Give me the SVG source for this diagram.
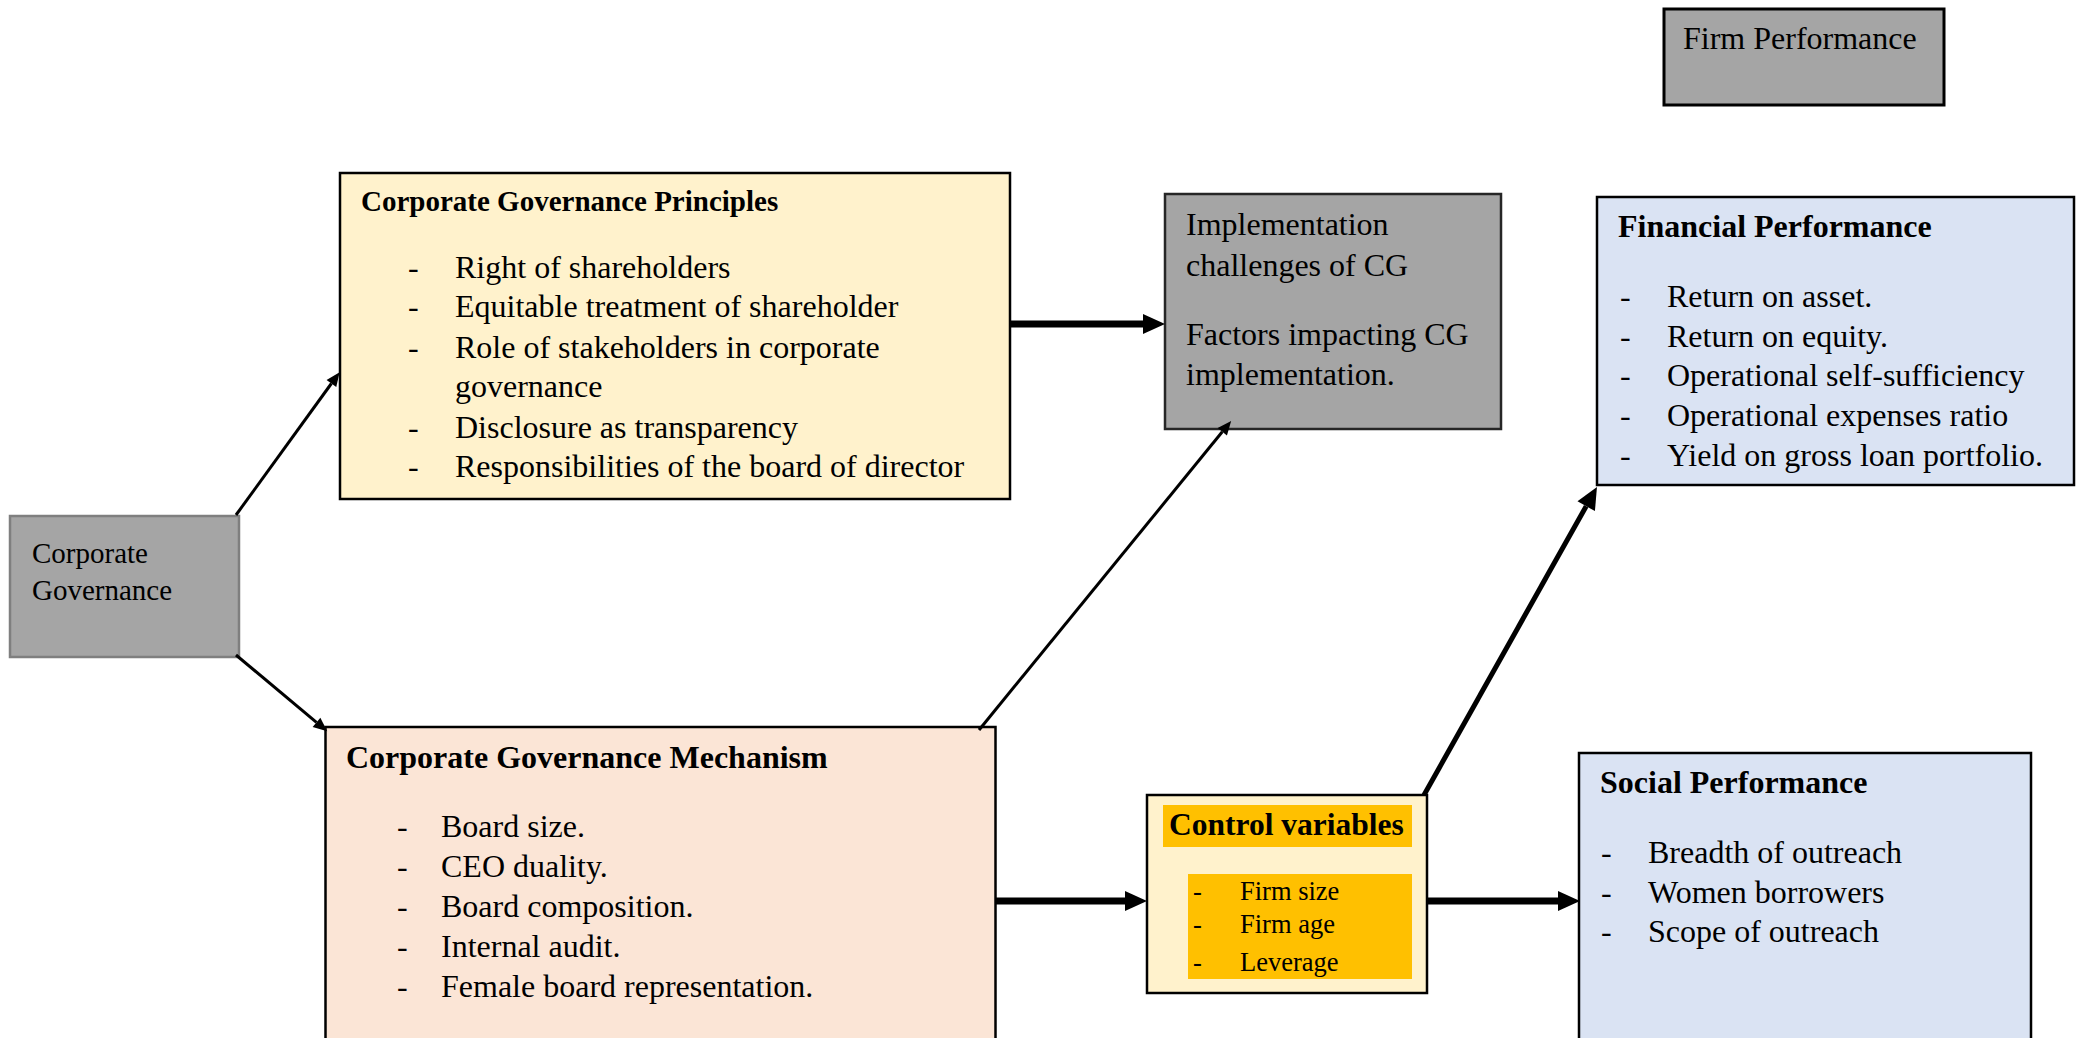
<svg xmlns="http://www.w3.org/2000/svg" width="2081" height="1038" viewBox="0 0 2081 1038">
<style>
text{font-family:"Liberation Serif","Times New Roman",serif;fill:#000}
.t{font-size:32px}
.b{font-size:32px;font-weight:bold}
.box{stroke:#000;stroke-width:2.5}
.grey{fill:#a5a5a5}
.thin{stroke:#000;stroke-width:3;fill:none}
.thick{stroke:#000;stroke-width:7;fill:none}
.diag{stroke:#000;stroke-width:5;fill:none}
</style>
<defs>
<marker id="ah" markerUnits="userSpaceOnUse" markerWidth="22" markerHeight="22" refX="0" refY="10" orient="auto" overflow="visible">
<path d="M0,0 L22,10 L0,20 z" fill="#000"/>
</marker>
<marker id="as" markerUnits="userSpaceOnUse" markerWidth="15" markerHeight="12" refX="0" refY="6" orient="auto" overflow="visible">
<path d="M0,0 L14,6 L0,12 z" fill="#000"/>
</marker>
</defs>
<rect width="2081" height="1038" fill="#fff"/>

<g id="firm-performance">
<rect x="1664" y="9" width="280" height="96" class="grey" stroke="#000" stroke-width="3"/>
<text x="1683" y="49" style="font-size:32px">Firm Performance</text>
</g>

<g id="corporate-governance">
<rect x="10" y="516" width="229" height="141" class="grey" stroke="#7f7f7f" stroke-width="2.5"/>
<text x="32" y="563" style="font-size:29px">Corporate</text>
<text x="32" y="600" style="font-size:29px">Governance</text>
</g>

<g id="cg-principles">
<rect x="340" y="173" width="670" height="326" fill="#fff2cc" class="box"/>
<text x="361" y="211" class="b" style="font-size:29px">Corporate Governance Principles</text>
<text x="408" y="278" class="t">-</text><text x="455" y="278" class="t">Right of shareholders</text>
<text x="408" y="317" class="t">-</text><text x="455" y="317" class="t">Equitable treatment of shareholder</text>
<text x="408" y="358" class="t">-</text><text x="455" y="358" class="t">Role of stakeholders in corporate</text>
<text x="455" y="397" class="t">governance</text>
<text x="408" y="438" class="t">-</text><text x="455" y="438" class="t">Disclosure as transparency</text>
<text x="408" y="477" class="t">-</text><text x="455" y="477" class="t">Responsibilities of the board of director</text>
</g>

<g id="cg-mechanism">
<rect x="325.5" y="727" width="670" height="330" fill="#fbe5d6" class="box"/>
<text x="346" y="768" class="b">Corporate Governance Mechanism</text>
<text x="397" y="837" class="t">-</text><text x="441" y="837" class="t">Board size.</text>
<text x="397" y="877" class="t">-</text><text x="441" y="877" class="t">CEO duality.</text>
<text x="397" y="917" class="t">-</text><text x="441" y="917" class="t">Board composition.</text>
<text x="397" y="957" class="t">-</text><text x="441" y="957" class="t">Internal audit.</text>
<text x="397" y="997" class="t">-</text><text x="441" y="997" class="t">Female board representation.</text>
</g>

<g id="implementation">
<rect x="1165" y="194" width="336" height="235" class="grey" stroke="#262626" stroke-width="2.5"/>
<text x="1186" y="235" class="t">Implementation</text>
<text x="1186" y="276" class="t">challenges of CG</text>
<text x="1186" y="345" class="t">Factors impacting CG</text>
<text x="1186" y="385" class="t">implementation.</text>
</g>

<g id="financial-performance">
<rect x="1597" y="197" width="477" height="288" fill="#dae3f3" class="box"/>
<text x="1618" y="237" class="b">Financial Performance</text>
<text x="1620" y="307" class="t">-</text><text x="1667" y="307" class="t">Return on asset.</text>
<text x="1620" y="347" class="t">-</text><text x="1667" y="347" class="t">Return on equity.</text>
<text x="1620" y="386" class="t">-</text><text x="1667" y="386" class="t">Operational self-sufficiency</text>
<text x="1620" y="426" class="t">-</text><text x="1667" y="426" class="t">Operational expenses ratio</text>
<text x="1620" y="466" class="t">-</text><text x="1667" y="466" class="t">Yield on gross loan portfolio.</text>
</g>

<g id="social-performance">
<rect x="1579" y="753" width="452" height="300" fill="#dae3f3" class="box"/>
<text x="1600" y="793" class="b">Social Performance</text>
<text x="1601" y="863" class="t">-</text><text x="1648" y="863" class="t">Breadth of outreach</text>
<text x="1601" y="903" class="t">-</text><text x="1648" y="903" class="t">Women borrowers</text>
<text x="1601" y="942" class="t">-</text><text x="1648" y="942" class="t">Scope of outreach</text>
</g>

<g id="control-variables">
<rect x="1147" y="795" width="280" height="198" fill="#fff2cc" class="box"/>
<rect x="1163" y="805" width="249" height="42" fill="#ffc000"/>
<text x="1169" y="835" class="b" style="font-size:31.5px">Control variables</text>
<rect x="1188" y="874" width="224" height="105" fill="#ffc000"/>
<text x="1193" y="900" style="font-size:26.5px">-</text><text x="1240" y="900" style="font-size:26.5px">Firm size</text>
<text x="1193" y="933" style="font-size:26.5px">-</text><text x="1240" y="933" style="font-size:26.5px">Firm age</text>
<text x="1193" y="971" style="font-size:26.5px">-</text><text x="1240" y="971" style="font-size:26.5px">Leverage</text>
</g>

<g id="connectors">
<line x1="236" y1="515" x2="331.4" y2="383.5" class="thin" marker-end="url(#as)"/>
<line x1="236" y1="655" x2="316.5" y2="722.3" class="thin" marker-end="url(#as)"/>
<line x1="1010" y1="324" x2="1143" y2="324" class="thick" marker-end="url(#ah)"/>
<line x1="979" y1="730" x2="1222.3" y2="431.8" class="thin" marker-end="url(#as)"/>
<line x1="1424" y1="795" x2="1586.2" y2="506.2" class="diag" marker-end="url(#ah)"/>
<line x1="996" y1="901" x2="1125" y2="901" class="thick" marker-end="url(#ah)"/>
<line x1="1427" y1="901" x2="1558" y2="901" class="thick" marker-end="url(#ah)"/>
</g>
</svg>
